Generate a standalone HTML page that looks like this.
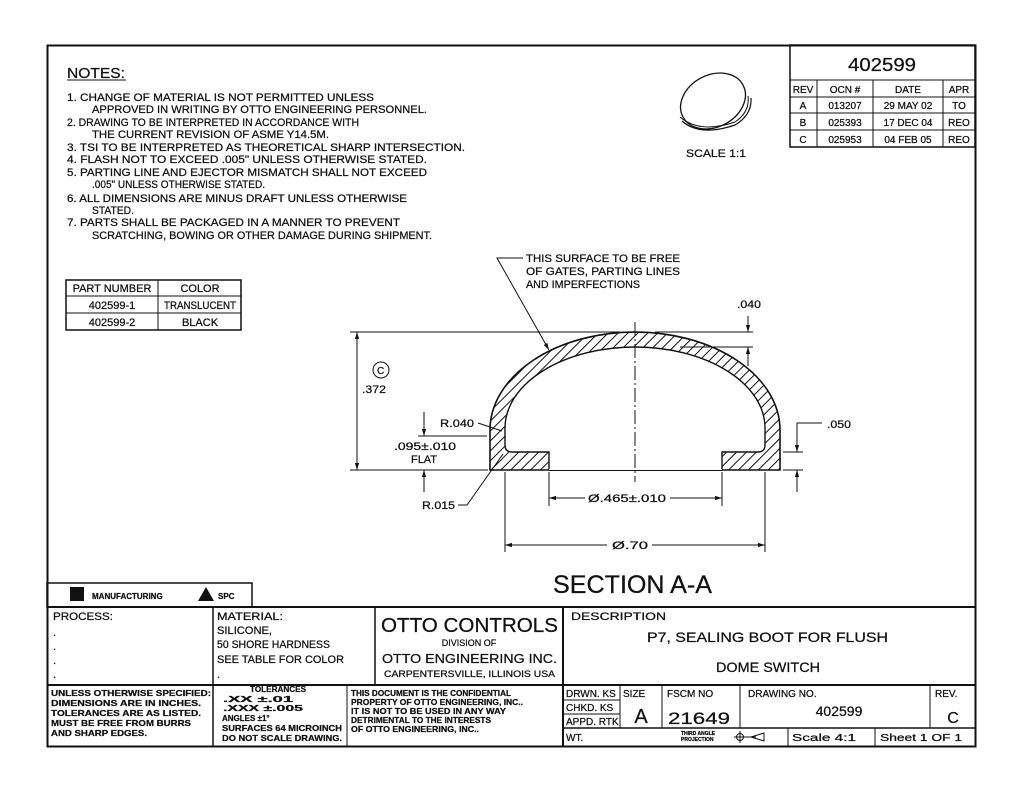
<!DOCTYPE html>
<html><head><meta charset="utf-8"><style>
html,body{margin:0;padding:0;background:#fff;}
svg{display:block;}
text{font-family:"Liberation Sans",Arial,sans-serif;fill:#111;stroke:#111;stroke-width:0.25;}
</style></head><body>
<svg width="1024" height="791" viewBox="0 0 1024 791" xmlns="http://www.w3.org/2000/svg">
<defs>
<pattern id="h" patternUnits="userSpaceOnUse" width="7" height="7" patternTransform="rotate(45)">
<rect width="7" height="7" fill="#fff"/><line x1="0" y1="0" x2="0" y2="7" stroke="#111" stroke-width="2"/>
</pattern>
<marker id="a" viewBox="0 0 10 10" refX="10" refY="5" markerWidth="7" markerHeight="7" orient="auto-start-reverse"><path d="M0,2 L10,5 L0,8 z" fill="#111"/></marker>
</defs>
<g fill="none" stroke="#111">
<rect x="47.5" y="45.5" width="928" height="701" stroke-width="2"/>
<rect x="790" y="45" width="185" height="102" stroke-width="1.5"/>
<line x1="790" y1="80" x2="975" y2="80"/>
<line x1="790" y1="97" x2="975" y2="97"/>
<line x1="790" y1="113" x2="975" y2="113"/>
<line x1="790" y1="130" x2="975" y2="130"/>
<line x1="817" y1="80" x2="817" y2="147"/>
<line x1="873" y1="80" x2="873" y2="147"/>
<line x1="943" y1="80" x2="943" y2="147"/>
<rect x="66" y="280" width="175" height="50" stroke-width="1.5"/>
<line x1="66" y1="296" x2="241" y2="296"/>
<line x1="66" y1="313" x2="241" y2="313"/>
<line x1="158" y1="280" x2="158" y2="330"/>
<ellipse cx="713" cy="101" rx="34" ry="26" transform="rotate(-28 713 101)" stroke-width="1.3"/>
<path d="M682,121 Q700,137 735,125 Q752,115 751,98" stroke-width="1.2"/>
<path d="M680,117 Q700,134 735,122 Q750,112 748,96" stroke-width="1"/>
<rect x="47" y="583" width="205" height="24" stroke-width="1.5"/>
<line x1="47" y1="607" x2="975" y2="607" stroke-width="2"/>
<line x1="47" y1="685" x2="975" y2="685" stroke-width="2"/>
<line x1="213" y1="607" x2="213" y2="746" stroke-width="1.5"/>
<line x1="375" y1="607" x2="375" y2="685" stroke-width="1.5"/>
<line x1="347" y1="685" x2="347" y2="746" stroke-width="1"/>
<line x1="563" y1="607" x2="563" y2="746" stroke-width="2"/>
<line x1="620" y1="685" x2="620" y2="728"/>
<line x1="662" y1="685" x2="662" y2="728"/>
<line x1="740" y1="685" x2="740" y2="728"/>
<line x1="930" y1="685" x2="930" y2="728"/>
<line x1="563" y1="700" x2="620" y2="700"/>
<line x1="563" y1="714" x2="620" y2="714"/>
<line x1="563" y1="728" x2="975" y2="728" stroke-width="1.5"/>
<line x1="788" y1="728" x2="788" y2="746"/>
<line x1="875" y1="728" x2="875" y2="746"/>
</g>
<rect x="70" y="587" width="14" height="14" fill="#111"/>
<polygon points="198,601 206,587 214,601" fill="#111"/>

<path d="M490,470 L490,430 A145,98 0 0 1 780,430 L780,470 Z" fill="url(#h)" stroke="#111" stroke-width="1.6"/>
<path d="M505,445 L505,428 A130,81 0 0 1 765,428 L765,445 Q765,452 758,452 L722,452 L722,470 L549,470 L549,452 L512,452 Q505,452 505,445 Z" fill="#fff" stroke="#111" stroke-width="1.4"/>
<line x1="549" y1="470" x2="722" y2="470" stroke="#fff" stroke-width="2"/>
<line x1="549" y1="470.5" x2="722" y2="470.5" stroke="#111" stroke-width="1"/>
<line x1="635" y1="322" x2="635" y2="482" stroke="#111" stroke-dasharray="14,3,2,3"/>

<g stroke="#111" fill="none" stroke-width="1">
<line x1="350" y1="332" x2="620" y2="332"/><line x1="655" y1="332" x2="753" y2="332"/>
<line x1="680" y1="347" x2="753" y2="347"/>
<line x1="350" y1="470" x2="488" y2="470"/>
<line x1="357" y1="332" x2="357" y2="470" marker-start="url(#a)" marker-end="url(#a)"/>
<line x1="748" y1="316" x2="748" y2="332" marker-end="url(#a)"/>
<line x1="748" y1="366" x2="748" y2="347" marker-end="url(#a)"/>
<line x1="783" y1="452" x2="803" y2="452"/><line x1="783" y1="470" x2="803" y2="470"/>
<polyline points="822,423 797,423 797,452" marker-end="url(#a)"/>
<line x1="797" y1="492" x2="797" y2="470" marker-end="url(#a)"/>
<line x1="418" y1="436" x2="487" y2="436"/>
<line x1="424" y1="412" x2="424" y2="436" marker-end="url(#a)"/>
<line x1="424" y1="492" x2="424" y2="470" marker-end="url(#a)"/>
<line x1="478" y1="423" x2="502" y2="431"/>
<polyline points="458,505 467,505 503,454"/>
<line x1="549" y1="472" x2="549" y2="506"/><line x1="722" y1="472" x2="722" y2="506"/>
<line x1="549" y1="498" x2="585" y2="498" marker-start="url(#a)"/><line x1="670" y1="498" x2="722" y2="498" marker-end="url(#a)"/>
<line x1="505" y1="472" x2="505" y2="552"/><line x1="765" y1="472" x2="765" y2="552"/>
<line x1="505" y1="545" x2="607" y2="545" marker-start="url(#a)"/><line x1="652" y1="545" x2="765" y2="545" marker-end="url(#a)"/>
<polyline points="523,258 497,258 549,350" marker-end="url(#a)"/>
<circle cx="381" cy="370" r="8"/>
</g>

<g font-size="11">
<text x="67" y="78" font-size="15" textLength="58" lengthAdjust="spacingAndGlyphs">NOTES:</text>
<line x1="67" y1="80" x2="126" y2="80" stroke="#111"/>
<text x="67" y="101" textLength="307" lengthAdjust="spacingAndGlyphs">1. CHANGE OF MATERIAL IS NOT PERMITTED UNLESS</text>
<text x="92" y="113" textLength="335" lengthAdjust="spacingAndGlyphs">APPROVED IN WRITING BY OTTO ENGINEERING PERSONNEL.</text>
<text x="67" y="126" textLength="292" lengthAdjust="spacingAndGlyphs">2. DRAWING TO BE INTERPRETED IN ACCORDANCE WITH</text>
<text x="92" y="138" textLength="237" lengthAdjust="spacingAndGlyphs">THE CURRENT REVISION OF ASME Y14.5M.</text>
<text x="67" y="151" textLength="398" lengthAdjust="spacingAndGlyphs">3. TSI TO BE INTERPRETED AS THEORETICAL SHARP INTERSECTION.</text>
<text x="67" y="163" textLength="360" lengthAdjust="spacingAndGlyphs">4. FLASH NOT TO EXCEED .005" UNLESS OTHERWISE STATED.</text>
<text x="67" y="176" textLength="360" lengthAdjust="spacingAndGlyphs">5. PARTING LINE AND EJECTOR MISMATCH SHALL NOT EXCEED</text>
<text x="92" y="188" textLength="173" lengthAdjust="spacingAndGlyphs">.005" UNLESS OTHERWISE STATED.</text>
<text x="67" y="202" textLength="340" lengthAdjust="spacingAndGlyphs">6. ALL DIMENSIONS ARE MINUS DRAFT UNLESS OTHERWISE</text>
<text x="92" y="214" textLength="42" lengthAdjust="spacingAndGlyphs">STATED.</text>
<text x="67" y="226" textLength="333" lengthAdjust="spacingAndGlyphs">7. PARTS SHALL BE PACKAGED IN A MANNER TO PREVENT</text>
<text x="92" y="239" textLength="340" lengthAdjust="spacingAndGlyphs">SCRATCHING, BOWING OR OTHER DAMAGE DURING SHIPMENT.</text>

<text x="112" y="292" text-anchor="middle">PART NUMBER</text>
<text x="200" y="292" text-anchor="middle">COLOR</text>
<text x="112" y="309" text-anchor="middle">402599-1</text>
<text x="200" y="309" text-anchor="middle" textLength="72" lengthAdjust="spacingAndGlyphs">TRANSLUCENT</text>
<text x="112" y="326" text-anchor="middle">402599-2</text>
<text x="200" y="326" text-anchor="middle">BLACK</text>

<text x="848" y="71" font-size="18" textLength="68" lengthAdjust="spacingAndGlyphs">402599</text>
<g font-size="10" text-anchor="middle">
<text x="803" y="93">REV</text><text x="845" y="93">OCN #</text><text x="908" y="93">DATE</text><text x="959" y="93">APR</text>
<text x="803" y="109">A</text><text x="845" y="109">013207</text><text x="908" y="109">29 MAY 02</text><text x="959" y="109">TO</text>
<text x="803" y="126">B</text><text x="845" y="126">025393</text><text x="908" y="126">17 DEC 04</text><text x="959" y="126">REO</text>
<text x="803" y="143">C</text><text x="845" y="143">025953</text><text x="908" y="143">04 FEB 05</text><text x="959" y="143">REO</text>
</g>
<text x="686" y="157" textLength="60" lengthAdjust="spacingAndGlyphs">SCALE 1:1</text>

<text x="526" y="262" textLength="154" lengthAdjust="spacingAndGlyphs">THIS SURFACE TO BE FREE</text>
<text x="526" y="275" textLength="154" lengthAdjust="spacingAndGlyphs">OF GATES, PARTING LINES</text>
<text x="526" y="288" textLength="114" lengthAdjust="spacingAndGlyphs">AND IMPERFECTIONS</text>
<text x="737" y="308" textLength="24" lengthAdjust="spacingAndGlyphs">.040</text>
<text x="362" y="393" textLength="24" lengthAdjust="spacingAndGlyphs">.372</text>
<text x="377" y="374" font-size="10">C</text>
<text x="440" y="427" textLength="34" lengthAdjust="spacingAndGlyphs">R.040</text>
<text x="394" y="450" textLength="62" lengthAdjust="spacingAndGlyphs">.095±.010</text>
<text x="411" y="463" textLength="26" lengthAdjust="spacingAndGlyphs">FLAT</text>
<text x="422" y="509" textLength="33" lengthAdjust="spacingAndGlyphs">R.015</text>
<text x="827" y="428" textLength="24" lengthAdjust="spacingAndGlyphs">.050</text>
<text x="588" y="502" textLength="78" lengthAdjust="spacingAndGlyphs">Ø.465±.010</text>
<text x="612" y="549" textLength="36" lengthAdjust="spacingAndGlyphs">Ø.70</text>
<text x="553" y="593" font-size="25" stroke-width="0" textLength="159" lengthAdjust="spacingAndGlyphs">SECTION  A-A</text>

<text x="92" y="599" font-size="8" font-weight="bold">MANUFACTURING</text>
<text x="218" y="599" font-size="8" font-weight="bold">SPC</text>

<text x="53" y="620" font-size="11" textLength="60" lengthAdjust="spacingAndGlyphs">PROCESS:</text>
<text x="53" y="636">.</text><text x="53" y="650">.</text><text x="53" y="664">.</text><text x="53" y="678">.</text>
<text x="217" y="620" textLength="66" lengthAdjust="spacingAndGlyphs">MATERIAL:</text>
<text x="217" y="634" textLength="55" lengthAdjust="spacingAndGlyphs">SILICONE,</text>
<text x="217" y="648" textLength="113" lengthAdjust="spacingAndGlyphs">50 SHORE HARDNESS</text>
<text x="217" y="663" textLength="127" lengthAdjust="spacingAndGlyphs">SEE TABLE FOR COLOR</text>
<text x="217" y="678">.</text>
<text x="381" y="632" font-size="20" stroke-width="0" textLength="177" lengthAdjust="spacingAndGlyphs">OTTO CONTROLS</text>
<text x="469" y="646" font-size="9" text-anchor="middle">DIVISION OF</text>
<text x="382" y="663" font-size="13" textLength="175" lengthAdjust="spacingAndGlyphs">OTTO ENGINEERING INC.</text>
<text x="384" y="677" font-size="9" textLength="171" lengthAdjust="spacingAndGlyphs">CARPENTERSVILLE, ILLINOIS USA</text>
<text x="571" y="620" textLength="95" lengthAdjust="spacingAndGlyphs">DESCRIPTION</text>
<text x="647" y="642" font-size="14" textLength="241" lengthAdjust="spacingAndGlyphs">P7, SEALING BOOT FOR FLUSH</text>
<text x="716" y="672" font-size="14" textLength="104" lengthAdjust="spacingAndGlyphs">DOME SWITCH</text>

<g font-size="8.5" font-weight="bold">
<text x="51" y="696" textLength="160" lengthAdjust="spacingAndGlyphs">UNLESS OTHERWISE SPECIFIED:</text>
<text x="51" y="706" textLength="150" lengthAdjust="spacingAndGlyphs">DIMENSIONS ARE IN INCHES.</text>
<text x="51" y="716" textLength="150" lengthAdjust="spacingAndGlyphs">TOLERANCES ARE AS LISTED.</text>
<text x="51" y="726" textLength="140" lengthAdjust="spacingAndGlyphs">MUST BE FREE FROM BURRS</text>
<text x="51" y="736" textLength="96" lengthAdjust="spacingAndGlyphs">AND SHARP EDGES.</text>
<text x="250" y="692" font-size="8" textLength="56" lengthAdjust="spacingAndGlyphs">TOLERANCES</text>
<text x="223" y="702" textLength="70" lengthAdjust="spacingAndGlyphs">.XX        ±.01</text>
<text x="223" y="711" textLength="80" lengthAdjust="spacingAndGlyphs">.XXX      ±.005</text>
<text x="222" y="721" font-size="8">ANGLES ±1°</text>
<text x="222" y="731" textLength="120" lengthAdjust="spacingAndGlyphs">SURFACES 64 MICROINCH</text>
<text x="222" y="741" textLength="120" lengthAdjust="spacingAndGlyphs">DO NOT SCALE DRAWING.</text>
<text x="351" y="696" textLength="160" lengthAdjust="spacingAndGlyphs">THIS DOCUMENT IS THE CONFIDENTIAL</text>
<text x="351" y="705" textLength="172" lengthAdjust="spacingAndGlyphs">PROPERTY OF OTTO ENGINEERING, INC..</text>
<text x="351" y="714" textLength="155" lengthAdjust="spacingAndGlyphs">IT IS NOT TO BE USED IN ANY WAY</text>
<text x="351" y="723" textLength="140" lengthAdjust="spacingAndGlyphs">DETRIMENTAL TO THE INTERESTS</text>
<text x="351" y="732" textLength="128" lengthAdjust="spacingAndGlyphs">OF OTTO ENGINEERING, INC..</text>
</g>
<g font-size="10">
<text x="566" y="697">DRWN. KS</text>
<text x="566" y="711">CHKD. KS</text>
<text x="566" y="725">APPD. RTK</text>
<text x="566" y="741">WT.</text>
<text x="623" y="697">SIZE</text>
<text x="641" y="723" font-size="20" text-anchor="middle">A</text>
<text x="667" y="697">FSCM NO</text>
<text x="668" y="724" font-size="17" textLength="62" lengthAdjust="spacingAndGlyphs">21649</text>
<text x="748" y="697">DRAWING NO.</text>
<text x="839" y="716" font-size="14" text-anchor="middle">402599</text>
<text x="935" y="697">REV.</text>
<text x="953" y="723" font-size="16" text-anchor="middle">C</text>
<text x="792" y="741" textLength="64" lengthAdjust="spacingAndGlyphs">Scale 4:1</text>
<text x="880" y="741" textLength="82" lengthAdjust="spacingAndGlyphs">Sheet 1 OF 1</text>
<text x="681" y="735" font-size="5" font-weight="bold">THIRD ANGLE</text>
<text x="681" y="741" font-size="5" font-weight="bold">PROJECTION</text>
</g>
</g>
<g stroke="#111" fill="none">
<circle cx="740" cy="737" r="3.5"/><line x1="734" y1="737" x2="756" y2="737"/><line x1="740" y1="731" x2="740" y2="743"/>
<polygon points="751,737 764,733 764,741"/>
</g>
</svg>
</body></html>
